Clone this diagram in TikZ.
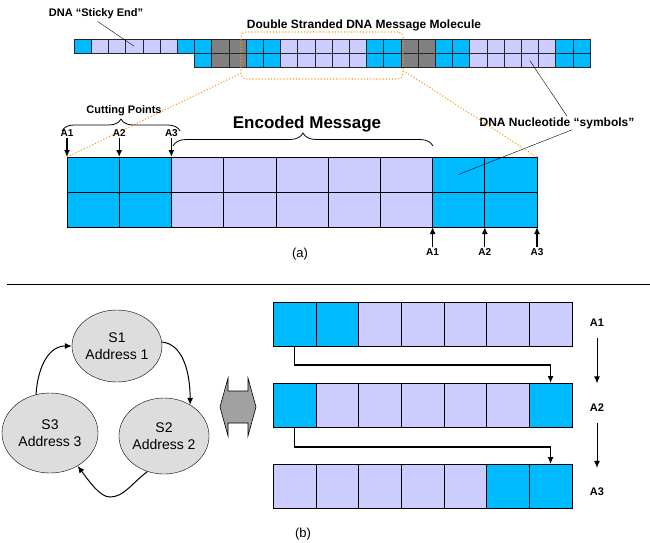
\documentclass[tikz,border=0pt]{standalone}
\usepackage{fontspec}
\setmainfont{Liberation Sans}
\usepackage{tikz}
\usetikzlibrary{arrows.meta,decorations.pathreplacing,shapes.geometric,positioning}

\definecolor{cyn}{HTML}{00BAFF}
\definecolor{lav}{HTML}{CCCCFF}
\definecolor{gry}{HTML}{808080}
\definecolor{ovl}{HTML}{DDDDDD}
\definecolor{org}{HTML}{FF9A1A}

\begin{document}
\begin{tikzpicture}[x=1pt,y=-1pt,
		cell/.style={draw=black!85,fill=#1,inner sep=0pt,outer sep=0pt},
		lbl/.style={font=\fontsize{#1}{#1}\selectfont\bfseries,inner sep=1pt},
		state/.style={ellipse,draw,fill=ovl,align=center,inner sep=0pt,
			font=\fontsize{14}{17}\selectfont},
		>={Latex[length=7pt,width=6pt]}]
		\useasboundingbox (0,0) rectangle (650,543);
		%
		% (a) double stranded molecule
		\foreach \c [count=\i] in {cyn,lav,lav,lav,lav,lav,cyn,cyn,gry,gry,cyn,cyn,lav,lav,lav,lav,lav,cyn,cyn,gry,gry,cyn,cyn,lav,lav,lav,lav,lav,cyn,cyn}
		\node (t-\i) [cell=\c,minimum width=17.2pt,minimum height=14pt] at ({74+(\i-0.5)*17.2},46.3) {};
		\foreach \c [count=\i from 8] in {cyn,gry,gry,cyn,cyn,lav,lav,lav,lav,lav,cyn,cyn,gry,gry,cyn,cyn,lav,lav,lav,lav,lav,cyn,cyn}
		\node (b-\i) [cell=\c,minimum width=17.2pt,minimum height=14pt] at ({74+(\i-0.5)*17.2},60.5) {};
		\node (win) [draw=org,dotted,line width=1.1pt,rounded corners=5pt,
			minimum width=162pt,minimum height=47pt] at (322,55.5) {};
		\node (sticky) [lbl=11] at (96,14) {DNA “Sticky End”};
		\node (dsdna) [lbl=12] at (364,25) {Double Stranded DNA Message Molecule};
		\node (sym) [lbl=12] at (557,123) {DNA Nucleotide “symbols”};
		\draw[shorten <=2pt] (sticky.south) -- (t-4.center);
		\draw (b-27.center) -- ([xshift=10pt]sym.north);
		%
		% encoded message
		\foreach \r/\y in {1/174.5,2/209.5}
		\foreach \c [count=\i] in {cyn,cyn,lav,lav,lav,lav,lav,cyn,cyn}
		\node (e\r-\i) [cell=\c,draw=black,minimum width=52.2pt,minimum height=35pt] at ({67+(\i-0.5)*52.2},\y) {};
		\draw ([xshift=15pt]sym.south) -- (e1-8.center);
		\draw[org,dotted,line width=1.1pt] (e1-1.north west) -- ([yshift=6pt]win.south west);
		\draw[org,dotted,line width=1.1pt] (e1-9.north east) -- ([yshift=9pt]win.south east);
		\draw[line width=0.8pt,decorate,decoration={brace,amplitude=12pt}] (62,131) -- (180,131);
		\draw[line width=0.8pt,decorate,decoration={brace,amplitude=13pt}] (173,146) -- (433,146);
		\node (cut) [lbl=11] at (124,111) {Cutting Points};
		\node (enc) [lbl=17] at (307,124) {Encoded Message};
		\foreach \i in {1,2,3} {
			\node (ta\i) [lbl=10] at ({67+(\i-1)*52.2},133) {A\i};
			\node (ba\i) [lbl=10] at ({432.6+(\i-1)*52.2},252) {A\i};
			\draw[->,line width=1.3pt] (ta\i.south) -- (ta\i.south |- e1-1.north);
			\draw[->,line width=1.3pt] (ba\i.north) -- (ba\i.north |- e2-1.south);
		}
		\node (capa) [font=\fontsize{13}{13}\selectfont] at (300,254) {(a)};
		%
		\draw[line width=1pt] (7,284) -- (650,284);
		%
		% (b) address states
		\node (s1) [state,minimum width=90pt,minimum height=72pt] at (117,346) {S1\\Address 1};
		\node (s2) [state,minimum width=90pt,minimum height=76pt] at (164,436) {S2\\Address 2};
		\node (s3) [state,minimum width=96pt,minimum height=80pt] at (50,433) {S3\\Address 3};
		\coordinate (dip) at (110,497);
		\draw[->,line width=1pt] (s1.5) .. controls +(22,2) and +(0,-30) .. (s2.50);
		\draw[->,line width=1pt] (s2.-115) .. controls +(-16,12) and +(14,0) .. (dip)
			.. controls +(-10,0) and +(12,16) .. (s3.-50);
		\draw[->,line width=1pt] (s3.110) .. controls +(2,-30) and +(-22,0) .. (s1.west);
		\filldraw[fill=black!37,line width=0.6pt] (220,407) -- (228,378) -- (228,391) -- (248,391)
			-- (248,378) -- (256,407) -- (248,436) -- (248,423) -- (228,423) -- (228,436) -- cycle;
		%
		\foreach \r/\y/\cols in {1/324/{cyn,cyn,lav,lav,lav,lav,lav},2/405/{cyn,lav,lav,lav,lav,lav,cyn},3/486/{lav,lav,lav,lav,lav,cyn,cyn}}
		\foreach \c [count=\i] in \cols
		\node (r\r-\i) [cell=\c,draw=black,minimum width=42.7pt,minimum height=44pt] at ({273+(\i-0.5)*42.7},\y) {};
		\draw[->,line width=1.3pt] (r1-1.south) -- ++(0,19) -| (r2-7.north);
		\draw[->,line width=1.3pt] (r2-1.south) -- ++(0,20) -| (r3-7.north);
		\foreach \i in {1,2,3}
		\node (lb\i) [lbl=11] at (597,{323+(\i-1)*84.5}) {A\i};
		\draw[->,line width=1pt,shorten <=10pt,shorten >=19pt] (lb1.south) -- (lb2.north);
		\draw[->,line width=1pt,shorten <=10pt,shorten >=19pt] (lb2.south) -- (lb3.north);
		\node (capb) [font=\fontsize{13}{13}\selectfont] at (303,534) {(b)};
	\end{tikzpicture}
\end{document}
